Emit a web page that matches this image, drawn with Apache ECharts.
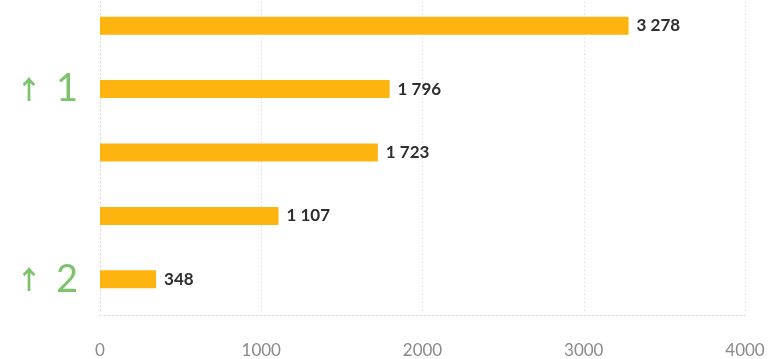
<!DOCTYPE html>
<html><head><meta charset="utf-8">
<script src="https://cdn.jsdelivr.net/npm/echarts@6/dist/echarts.min.js"></script>
<style>html,body{margin:0;padding:0;background:#fff;overflow:hidden}#c{position:absolute;left:0;top:-6px;width:776px;height:365px}</style>
</head><body><div id="c"></div>
<script>
var categories = ["r1", "r2", "r3", "r4", "r5"];
var values = [3278, 1796, 1723, 1107, 348];
var ranks = [null, 1, null, null, 2];
var xTicks = [0, 1000, 2000, 3000, 4000];

function fmt(v){ return String(v).replace(/\B(?=(\d{3})+(?!\d))/g, ' '); }

var chart = echarts.init(document.getElementById('c'));
chart.setOption({
  animation: false,
  grid: {left: 100, right: 31, top: 0, bottom: 48},
  xAxis: {
    type: 'value', min: xTicks[0], max: xTicks[xTicks.length-1], interval: 1000,
    offset: 4,
    axisLine: {show: true, lineStyle: {color: '#cfcfcf', type: [1, 3], width: 1}},
    axisTick: {show: false},
    splitLine: {show: true, lineStyle: {color: '#cfcfcf', type: [1, 3], width: 1}},
    axisLabel: {color: '#8a8a8a', fontSize: 17, fontFamily: 'Lato', margin: 27,
      formatter: function(v){ return String(v); }}
  },
  yAxis: {
    type: 'category', data: categories, inverse: true,
    axisLine: {show: true, lineStyle: {color: '#cfcfcf', type: [1, 3], width: 1}},
    axisTick: {show: false},
    axisLabel: {
      margin: 22,
      formatter: function(v, i){ return ranks[i] == null ? '' : '{a|↑}{n|' + ranks[i] + '}'; },
      rich: {
        a: {color: '#7cc36a', fontSize: 26, fontWeight: 'bold', fontFamily: 'Noto Sans CJK SC', padding: [0, 14, 0, 0]},
        n: {color: '#7cc36a', fontSize: 38, fontFamily: 'Lato'}
      }
    }
  },
  series: [{
    type: 'bar', data: values, barWidth: 18,
    itemStyle: {color: '#FDB40F'},
    label: {show: true, position: 'right', distance: 8, color: '#2e2e2e', fontSize: 17, fontWeight: 'bold', fontFamily: 'Lato',
      formatter: function(p){ return fmt(p.value); }}
  }]
});
</script></body></html>
